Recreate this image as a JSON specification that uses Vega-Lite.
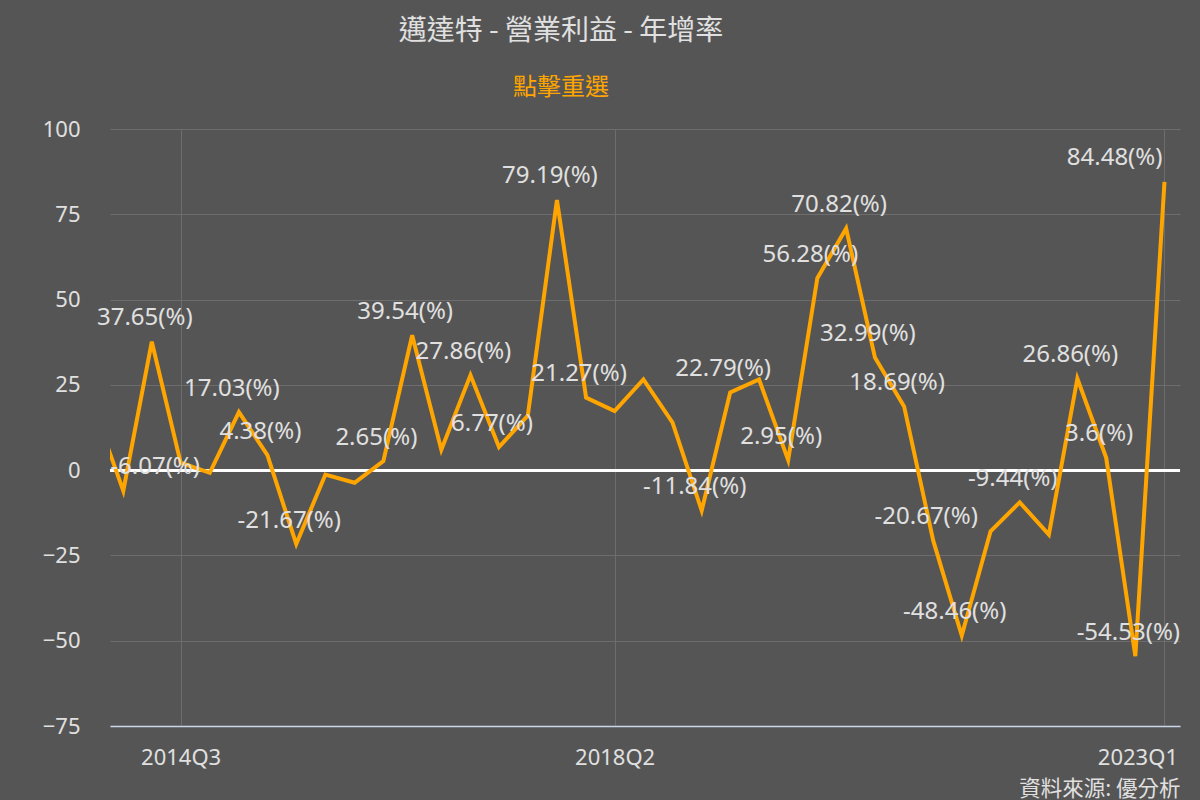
{
  "$schema": "https://vega.github.io/schema/vega-lite/v6.json",
  "width": 1070,
  "height": 597,
  "autosize": {"type": "none"},
  "padding": {"left": 110, "top": 129, "right": 20, "bottom": 74},
  "background": "#555555",
  "config": {"view": {"stroke": null}, "font": "Noto Sans, Noto Sans CJK TC"},
  "title": {
    "text": "邁達特 - 營業利益 - 年增率",
    "subtitle": "點擊重選",
    "anchor": "middle",
    "dx": -84,
    "font": "Noto Sans CJK TC",
    "fontSize": 28,
    "fontWeight": "normal",
    "color": "#e0e0e0",
    "subtitleFont": "Noto Sans CJK TC",
    "subtitleFontSize": 24,
    "subtitleColor": "#FFA500",
    "subtitlePadding": 30,
    "offset": 18
  },
  "data": {
    "values": [
      {"q": "2013Q4", "date": "2013-10-01", "value": 18.0, "label": false},
      {"q": "2014Q1", "date": "2014-01-01", "value": -6.07, "label": true},
      {"q": "2014Q2", "date": "2014-04-01", "value": 37.65, "label": true},
      {"q": "2014Q3", "date": "2014-07-01", "value": 2.2, "label": false},
      {"q": "2014Q4", "date": "2014-10-01", "value": -0.8, "label": false},
      {"q": "2015Q1", "date": "2015-01-01", "value": 17.03, "label": true},
      {"q": "2015Q2", "date": "2015-04-01", "value": 4.38, "label": true},
      {"q": "2015Q3", "date": "2015-07-01", "value": -21.67, "label": true},
      {"q": "2015Q4", "date": "2015-10-01", "value": -1.3, "label": false},
      {"q": "2016Q1", "date": "2016-01-01", "value": -3.7, "label": false},
      {"q": "2016Q2", "date": "2016-04-01", "value": 2.65, "label": true},
      {"q": "2016Q3", "date": "2016-07-01", "value": 39.54, "label": true},
      {"q": "2016Q4", "date": "2016-10-01", "value": 6.0, "label": false},
      {"q": "2017Q1", "date": "2017-01-01", "value": 27.86, "label": true},
      {"q": "2017Q2", "date": "2017-04-01", "value": 6.77, "label": true},
      {"q": "2017Q3", "date": "2017-07-01", "value": 16.0, "label": false},
      {"q": "2017Q4", "date": "2017-10-01", "value": 79.19, "label": true},
      {"q": "2018Q1", "date": "2018-01-01", "value": 21.27, "label": true},
      {"q": "2018Q2", "date": "2018-04-01", "value": 17.3, "label": false},
      {"q": "2018Q3", "date": "2018-07-01", "value": 26.6, "label": false},
      {"q": "2018Q4", "date": "2018-10-01", "value": 13.9, "label": false},
      {"q": "2019Q1", "date": "2019-01-01", "value": -11.84, "label": true},
      {"q": "2019Q2", "date": "2019-04-01", "value": 22.79, "label": true},
      {"q": "2019Q3", "date": "2019-07-01", "value": 26.6, "label": false},
      {"q": "2019Q4", "date": "2019-10-01", "value": 2.95, "label": true},
      {"q": "2020Q1", "date": "2020-01-01", "value": 56.28, "label": true},
      {"q": "2020Q2", "date": "2020-04-01", "value": 70.82, "label": true},
      {"q": "2020Q3", "date": "2020-07-01", "value": 32.99, "label": true},
      {"q": "2020Q4", "date": "2020-10-01", "value": 18.69, "label": true},
      {"q": "2021Q1", "date": "2021-01-01", "value": -20.67, "label": true},
      {"q": "2021Q2", "date": "2021-04-01", "value": -48.46, "label": true},
      {"q": "2021Q3", "date": "2021-07-01", "value": -17.9, "label": false},
      {"q": "2021Q4", "date": "2021-10-01", "value": -9.44, "label": true},
      {"q": "2022Q1", "date": "2022-01-01", "value": -18.9, "label": false},
      {"q": "2022Q2", "date": "2022-04-01", "value": 26.86, "label": true},
      {"q": "2022Q3", "date": "2022-07-01", "value": 3.6, "label": true},
      {"q": "2022Q4", "date": "2022-10-01", "value": -54.53, "label": true},
      {"q": "2023Q1", "date": "2023-01-01", "value": 84.48, "label": true}
    ]
  },
  "encoding": {
    "x": {
      "field": "date",
      "type": "temporal",
      "scale": {"domain": [{"year": 2013, "month": 11, "date": 20}, {"year": 2023, "month": 2, "date": 19}]},
      "axis": {
        "values": [{"year": 2014, "month": 7, "date": 1}, {"year": 2018, "month": 4, "date": 1}, {"year": 2023, "month": 1, "date": 1}],
        "format": "%YQ%q",
        "grid": true,
        "gridColor": "#6d6d6d",
        "gridWidth": 1,
        "ticks": false,
        "domainColor": "#ccd6eb",
        "domainWidth": 1.5,
        "labelFont": "Noto Sans",
        "labelFontSize": 22,
        "labelColor": "#e0e0e0",
        "labelPadding": 21,
        "labelFlush": 20,
        "labelFlushOffset": 13,
        "title": "資料來源: 優分析",
        "titleAnchor": "end",
        "titleFont": "Noto Sans CJK TC",
        "titleFontSize": 21.5,
        "titleFontWeight": "normal",
        "titleColor": "#e0e0e0",
        "titlePadding": 10
      }
    },
    "y": {
      "field": "value",
      "type": "quantitative",
      "scale": {"domain": [-75, 100], "nice": false, "zero": false},
      "axis": {
        "values": [-75, -50, -25, 0, 25, 50, 75, 100],
        "grid": true,
        "gridColor": "#6d6d6d",
        "gridWidth": 1,
        "ticks": false,
        "domain": false,
        "labelFont": "Noto Sans",
        "labelFontSize": 22,
        "labelColor": "#e0e0e0",
        "labelPadding": 30,
        "title": null
      }
    }
  },
  "layer": [
    {
      "mark": {"type": "rule", "color": "#ffffff", "strokeWidth": 2},
      "encoding": {"x": null, "y": {"datum": 0, "type": "quantitative"}}
    },
    {
      "mark": {"type": "line", "color": "#FFA500", "strokeWidth": 4, "clip": true}
    },
    {
      "transform": [
        {"filter": "datum.label && datum.q !== '2014Q1' && datum.q !== '2023Q1'"},
        {"calculate": "datum.value + '(%)'", "as": "txt"}
      ],
      "mark": {"type": "text", "align": "center", "baseline": "alphabetic", "dx": -7, "dy": -16.5, "fontSize": 24, "color": "#e0e0e0", "font": "Noto Sans"},
      "encoding": {"text": {"field": "txt"}}
    },
    {
      "transform": [
        {"filter": "datum.q === '2014Q1'"},
        {"calculate": "datum.value + '(%)'", "as": "txt"}
      ],
      "mark": {"type": "text", "align": "left", "baseline": "alphabetic", "dx": -13, "dy": -16.5, "fontSize": 24, "color": "#e0e0e0", "font": "Noto Sans"},
      "encoding": {"text": {"field": "txt"}}
    },
    {
      "transform": [
        {"filter": "datum.q === '2023Q1'"},
        {"calculate": "datum.value + '(%)'", "as": "txt"}
      ],
      "mark": {"type": "text", "align": "right", "baseline": "alphabetic", "dx": -2, "dy": -16.5, "fontSize": 24, "color": "#e0e0e0", "font": "Noto Sans"},
      "encoding": {"text": {"field": "txt"}}
    }
  ]
}
